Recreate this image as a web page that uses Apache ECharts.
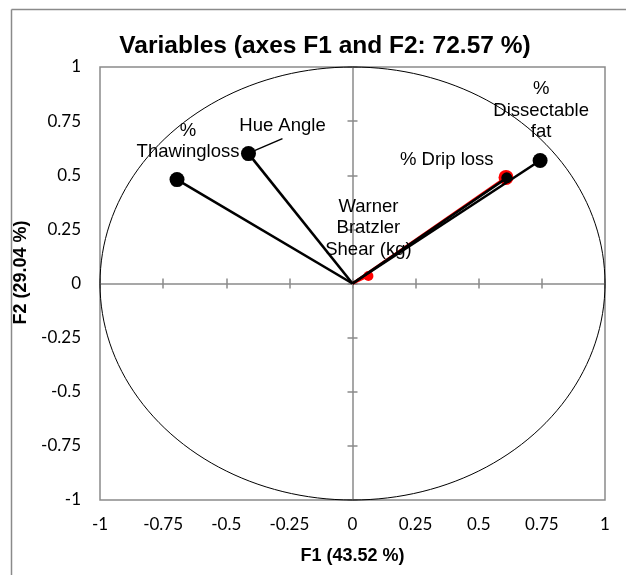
<!DOCTYPE html>
<html><head><meta charset="utf-8">
<script src="https://cdn.jsdelivr.net/npm/echarts@6/dist/echarts.min.js"></script>
<style>html,body{margin:0;padding:0;background:#fff}#c{width:626px;height:575px}</style>
</head><body><div id="c"></div>
<script>
// ---- data ----
const titleText = 'Variables (axes F1 and F2: 72.57 %)';
const xAxisName = 'F1 (43.52 %)';
const yAxisName = 'F2 (29.04 %)';
const axisMin = -1, axisMax = 1, axisStep = 0.25;
const activeNames = ['% Thawingloss', 'Hue Angle', '% Dissectable fat', '% Drip loss'];
const activeF1 = [-0.695, -0.412, 0.743, 0.611];
const activeF2 = [0.480, 0.600, 0.568, 0.488];
const suppNames = ['% Drip loss (sup)', 'Warner Bratzler Shear (kg)'];
const suppF1 = [0.608, 0.063];
const suppF2 = [0.490, 0.035];
const circleRadius = 1;

// ---- label styling (by name) ----
const labelStyle = {
  '% Thawingloss': { text: '%\nThawingloss', offset: [11, -38] },
  'Hue Angle': { text: 'Hue Angle', offset: [34, -28], leader: [[6, -3], [34, -15]] },
  '% Dissectable fat': { text: '%\nDissectable\nfat', offset: [1, -50] },
  '% Drip loss': { text: '% Drip loss', offset: [-60, -18] },
  'Warner Bratzler Shear (kg)': { text: 'Warner\nBratzler\nShear (kg)', offset: [0, -48] }
};
const suppSizes = { '% Drip loss (sup)': 15, 'Warner Bratzler Shear (kg)': 10 };
const activeSizes = { '% Drip loss': 11 };

const gray = '#8a8a8a';
const labelFont = { fontFamily: 'Liberation Sans, Arial, sans-serif', fontSize: 18.5, lineHeight: 21.5, color: '#000' };

function makeItem(name, x, y, sizeMap, defSize) {
  const ls = labelStyle[name];
  const item = { name: name, value: [x, y], symbolSize: sizeMap[name] || defSize };
  if (ls) {
    item.label = Object.assign({ show: true, position: 'inside', offset: ls.offset, formatter: ls.text, align: 'center', verticalAlign: 'middle' }, labelFont);
  }
  return item;
}

const activeData = activeNames.map((n, i) => makeItem(n, activeF1[i], activeF2[i], activeSizes, 15));
const suppData = suppNames.map((n, i) => makeItem(n, suppF1[i], suppF2[i], suppSizes, 10));

function vectorSeries(xs, ys, color, z) {
  return {
    type: 'custom', coordinateSystem: 'cartesian2d', xAxisIndex: 0, yAxisIndex: 0, silent: true, z: z,
    data: xs.map((x, i) => [x, ys[i]]),
    renderItem: function (params, api) {
      const o = api.coord([0, 0]);
      const p = api.coord([api.value(0), api.value(1)]);
      return { type: 'line', shape: { x1: o[0], y1: o[1], x2: p[0], y2: p[1] }, style: { stroke: color, lineWidth: 2.6 } };
    }
  };
}

// leader lines for labels that have one (anchored to the data point)
const leaderIdx = activeNames.map((n, i) => i).filter(i => labelStyle[activeNames[i]] && labelStyle[activeNames[i]].leader);
const leaderSeries = {
  type: 'custom', coordinateSystem: 'cartesian2d', xAxisIndex: 0, yAxisIndex: 0, silent: true, z: 6,
  data: leaderIdx.map(i => [activeF1[i], activeF2[i], i]),
  renderItem: function (params, api) {
    const p = api.coord([api.value(0), api.value(1)]);
    const ld = labelStyle[activeNames[api.value(2)]].leader;
    return { type: 'line', shape: { x1: p[0] + ld[0][0], y1: p[1] + ld[0][1], x2: p[0] + ld[1][0], y2: p[1] + ld[1][1] }, style: { stroke: '#000', lineWidth: 1.5 } };
  }
};

const baseAxis = { type: 'value', min: axisMin, max: axisMax, interval: axisStep, splitLine: { show: false } };
const tickFont = { fontFamily: 'Lato, Carlito, sans-serif', fontSize: 17, color: '#000' };
const nameFont = { fontFamily: 'Liberation Sans, Arial, sans-serif', fontWeight: 'bold', fontSize: 18, color: '#000' };
function labelAxis(extra) {
  return Object.assign({}, baseAxis, {
    axisLine: { show: false, onZero: false }, axisTick: { show: false },
    nameLocation: 'middle'
  }, extra);
}
function zeroAxis(pos, inside, showLine) {
  return Object.assign({}, baseAxis, {
    position: pos,
    axisLine: { show: showLine, onZero: true, onZeroAxisIndex: 0, lineStyle: { color: gray, width: 1.5 } },
    axisTick: { show: true, inside: inside, length: 5, lineStyle: { color: gray, width: 1.5 } },
    axisLabel: { show: false }
  });
}

const chart = echarts.init(document.getElementById('c'), null, { renderer: 'canvas' });
chart.setOption({
  animation: false,
  backgroundColor: '#fff',
  title: {
    text: titleText, left: 325, top: 34, padding: 0, textAlign: 'center',
    textStyle: { fontFamily: 'Liberation Sans, Arial, sans-serif', fontWeight: 'bold', fontSize: 24.5, color: '#000' }
  },
  graphic: [
    { type: 'line', shape: { x1: 11.5, y1: 9.5, x2: 11.5, y2: 575 }, style: { stroke: gray, lineWidth: 1.5 }, z: 100 },
    { type: 'line', shape: { x1: 11.5, y1: 9.5, x2: 626, y2: 9.5 }, style: { stroke: gray, lineWidth: 1.5 }, z: 100 }
  ],
  grid: { left: 100, right: 21, top: 67, bottom: 75, show: true, borderColor: gray, borderWidth: 1.5, backgroundColor: 'transparent', containLabel: false },
  xAxis: [
    labelAxis({ position: 'bottom', name: xAxisName, nameGap: 47, nameTextStyle: nameFont, axisLabel: Object.assign({ margin: 16 }, tickFont) }),
    zeroAxis('bottom', false, true),
    zeroAxis('bottom', true, false)
  ],
  yAxis: [
    labelAxis({ position: 'left', name: yAxisName, nameGap: 55, nameTextStyle: Object.assign({ padding: [0, 0, 0, 22] }, nameFont), axisLabel: Object.assign({ margin: 19 }, tickFont) }),
    zeroAxis('left', false, true),
    zeroAxis('left', true, false)
  ],
  series: [
    {
      type: 'custom', coordinateSystem: 'cartesian2d', xAxisIndex: 0, yAxisIndex: 0, silent: true, z: 1,
      data: [[0, 0, circleRadius]],
      renderItem: function (params, api) {
        const r = api.value(2);
        const pts = [];
        for (let a = 0; a <= 360; a += 2) {
          const t = a * Math.PI / 180;
          pts.push(api.coord([api.value(0) + r * Math.cos(t), api.value(1) + r * Math.sin(t)]));
        }
        return { type: 'polygon', shape: { points: pts }, style: { fill: 'none', stroke: '#000', lineWidth: 1 } };
      }
    },
    vectorSeries(suppF1, suppF2, '#ff0000', 2),
    { type: 'scatter', xAxisIndex: 0, yAxisIndex: 0, z: 3, symbol: 'circle', itemStyle: { color: '#ff0000', opacity: 1 }, data: suppData },
    vectorSeries(activeF1, activeF2, '#000000', 4),
    { type: 'scatter', xAxisIndex: 0, yAxisIndex: 0, z: 5, symbol: 'circle', itemStyle: { color: '#000000', opacity: 1 }, data: activeData },
    leaderSeries
  ]
});
</script>
</body></html>
